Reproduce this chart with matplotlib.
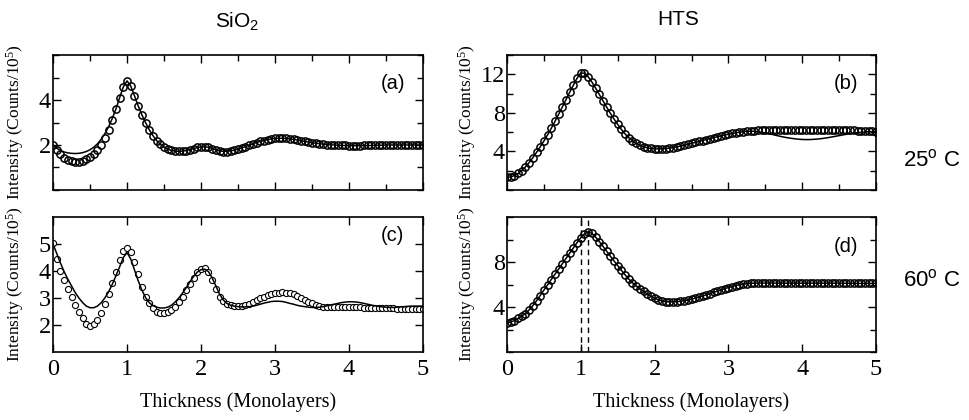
import numpy as np
import matplotlib
matplotlib.use('Agg')
import matplotlib.pyplot as plt
from matplotlib.ticker import MultipleLocator

plt.rcParams['font.family'] = ['Liberation Serif', 'DejaVu Serif']

# thickness grid (monolayers), step 0.05
Thick = np.linspace(0, 5, 101)

# (a) SiO2, 25 C
SiO2_25_data = [2.00, 1.78, 1.58, 1.43, 1.33, 1.27, 1.25, 1.26, 1.30, 1.37,
                1.47, 1.60, 1.77, 2.00, 2.30, 2.68, 3.12, 3.60, 4.10, 4.58,
                4.85, 4.62, 4.20, 3.75, 3.35, 3.00, 2.68, 2.42, 2.20, 2.03,
                1.91, 1.82, 1.76, 1.73, 1.72, 1.73, 1.75, 1.79, 1.84, 1.89,
                1.92, 1.93, 1.90, 1.84, 1.78, 1.73, 1.71, 1.71, 1.73, 1.77,
                1.82, 1.87, 1.93, 1.99, 2.05, 2.11, 2.16, 2.20, 2.24, 2.27,
                2.29, 2.30, 2.30, 2.29, 2.27, 2.25, 2.22, 2.19, 2.16, 2.13,
                2.10, 2.08, 2.06, 2.04, 2.02, 2.01, 2.00, 1.99, 1.98, 1.98,
                1.97, 1.97, 1.97, 1.97, 1.98, 1.98, 1.98, 1.99, 1.99, 1.99,
                2.00, 2.00, 2.00, 2.00, 2.00, 2.00, 2.00, 2.00, 2.00, 2.00,
                2.00]
SiO2_25_fit = [2.00, 1.86, 1.76, 1.69, 1.65, 1.63, 1.62, 1.63, 1.66, 1.71,
               1.79, 1.90, 2.05, 2.25, 2.50, 2.80, 3.17, 3.60, 4.10, 4.58,
               4.85, 4.62, 4.20, 3.75, 3.35, 3.00, 2.68, 2.42, 2.20, 2.03,
               1.91, 1.82, 1.76, 1.73, 1.72, 1.73, 1.75, 1.79, 1.84, 1.88,
               1.91, 1.92, 1.90, 1.85, 1.79, 1.74, 1.72, 1.72, 1.74, 1.77,
               1.82, 1.87, 1.93, 1.99, 2.05, 2.11, 2.16, 2.20, 2.24, 2.27,
               2.29, 2.30, 2.30, 2.29, 2.27, 2.25, 2.22, 2.19, 2.16, 2.13,
               2.10, 2.08, 2.06, 2.04, 2.02, 2.01, 2.00, 1.99, 1.98, 1.98,
               1.97, 1.97, 1.97, 1.97, 1.98, 1.98, 1.98, 1.99, 1.99, 1.99,
               2.00, 2.00, 2.00, 2.00, 2.00, 2.00, 2.00, 2.00, 2.00, 2.00,
               2.00]

# (b) HTS, 25 C
HTS_25_data = [1.30, 1.36, 1.50, 1.72, 2.02, 2.40, 2.85, 3.35, 3.90, 4.48,
               5.08, 5.72, 6.40, 7.12, 7.86, 8.62, 9.38, 10.14, 10.88, 11.60,
               12.15, 12.10, 11.75, 11.20, 10.58, 9.92, 9.26, 8.60, 7.96, 7.36,
               6.80, 6.28, 5.82, 5.42, 5.10, 4.84, 4.64, 4.49, 4.38, 4.31,
               4.27, 4.26, 4.27, 4.30, 4.34, 4.40, 4.47, 4.55, 4.64, 4.73,
               4.83, 4.93, 5.03, 5.13, 5.23, 5.33, 5.43, 5.52, 5.61, 5.70,
               5.78, 5.86, 5.93, 5.99, 6.04, 6.09, 6.13, 6.16, 6.19, 6.21,
               6.23, 6.24, 6.25, 6.26, 6.26, 6.27, 6.27, 6.27, 6.27, 6.27,
               6.27, 6.27, 6.27, 6.27, 6.27, 6.26, 6.26, 6.25, 6.25, 6.24,
               6.23, 6.22, 6.21, 6.20, 6.18, 6.16, 6.14, 6.12, 6.10, 6.08,
               6.06]
HTS_25_fit = [1.30, 1.36, 1.50, 1.72, 2.02, 2.40, 2.85, 3.35, 3.90, 4.48,
              5.08, 5.72, 6.40, 7.12, 7.86, 8.62, 9.38, 10.14, 10.88, 11.60,
              12.15, 12.10, 11.75, 11.20, 10.58, 9.92, 9.26, 8.60, 7.96, 7.36,
              6.80, 6.28, 5.82, 5.42, 5.10, 4.84, 4.64, 4.49, 4.38, 4.31,
              4.27, 4.26, 4.27, 4.30, 4.34, 4.40, 4.47, 4.55, 4.64, 4.73,
              4.83, 4.93, 5.03, 5.13, 5.23, 5.33, 5.43, 5.52, 5.61, 5.70,
              5.78, 5.86, 5.93, 5.99, 6.04, 6.09, 6.10, 6.09, 6.05, 5.99,
              5.92, 5.84, 5.75, 5.66, 5.57, 5.49, 5.42, 5.36, 5.31, 5.27,
              5.24, 5.23, 5.23, 5.25, 5.28, 5.32, 5.37, 5.43, 5.50, 5.57,
              5.64, 5.71, 5.78, 5.84, 5.90, 5.95, 5.99, 6.02, 6.04, 6.05,
              6.05]

# (c) SiO2, 60 C
SiO2_60_data = [5.05, 4.45, 4.00, 3.65, 3.35, 3.02, 2.75, 2.48, 2.25, 2.05,
                1.95, 2.02, 2.20, 2.45, 2.77, 3.15, 3.55, 3.95, 4.40, 4.75,
                4.87, 4.70, 4.35, 3.88, 3.40, 3.05, 2.80, 2.62, 2.50, 2.45,
                2.44, 2.47, 2.55, 2.68, 2.85, 3.05, 3.28, 3.52, 3.75, 3.95,
                4.07, 4.10, 3.95, 3.68, 3.35, 3.05, 2.88, 2.78, 2.73, 2.71,
                2.71, 2.72, 2.75, 2.79, 2.85, 2.92, 2.99, 3.05, 3.10, 3.15,
                3.18, 3.20, 3.21, 3.20, 3.17, 3.13, 3.07, 3.00, 2.93, 2.86,
                2.80, 2.75, 2.71, 2.68, 2.66, 2.65, 2.65, 2.65, 2.65, 2.65,
                2.65, 2.65, 2.65, 2.65, 2.64, 2.64, 2.64, 2.63, 2.63, 2.63,
                2.62, 2.62, 2.62, 2.61, 2.61, 2.61, 2.60, 2.60, 2.60, 2.60,
                2.60]
SiO2_60_fit = [5.00, 4.65, 4.30, 3.98, 3.70, 3.45, 3.20, 3.00, 2.83, 2.70,
               2.64, 2.64, 2.70, 2.82, 3.00, 3.22, 3.50, 3.82, 4.15, 4.50,
               4.68, 4.45, 4.05, 3.65, 3.30, 3.02, 2.83, 2.72, 2.66, 2.63,
               2.63, 2.66, 2.73, 2.85, 3.00, 3.18, 3.38, 3.60, 3.80, 3.96,
               4.05, 4.07, 3.98, 3.75, 3.45, 3.15, 2.93, 2.80, 2.73, 2.70,
               2.68, 2.67, 2.67, 2.68, 2.70, 2.73, 2.77, 2.81, 2.84, 2.87,
               2.88, 2.88, 2.87, 2.84, 2.80, 2.77, 2.73, 2.70, 2.68, 2.66,
               2.65, 2.65, 2.66, 2.68, 2.71, 2.74, 2.77, 2.80, 2.83, 2.85,
               2.86, 2.86, 2.85, 2.83, 2.80, 2.77, 2.74, 2.71, 2.69, 2.67,
               2.66, 2.65, 2.65, 2.66, 2.67, 2.68, 2.69, 2.70, 2.70, 2.70,
               2.70]

# (d) HTS, 60 C
HTS_60_data = [2.60, 2.66, 2.80, 2.98, 3.18, 3.42, 3.75, 4.12, 4.55, 5.02,
               5.50, 5.97, 6.44, 6.91, 7.38, 7.85, 8.32, 8.79, 9.26, 9.73,
               10.15, 10.50, 10.66, 10.55, 10.22, 9.82, 9.40, 8.96, 8.52, 8.10,
               7.68, 7.26, 6.86, 6.48, 6.16, 5.88, 5.62, 5.38, 5.16, 4.96,
               4.78, 4.64, 4.54, 4.48, 4.45, 4.45, 4.47, 4.51, 4.56, 4.62,
               4.70, 4.79, 4.88, 4.98, 5.08, 5.19, 5.30, 5.41, 5.52, 5.63,
               5.73, 5.82, 5.90, 5.97, 6.03, 6.07, 6.10, 6.12, 6.14, 6.15,
               6.16, 6.16, 6.16, 6.16, 6.16, 6.16, 6.16, 6.16, 6.16, 6.16,
               6.16, 6.16, 6.16, 6.15, 6.15, 6.15, 6.15, 6.15, 6.15, 6.15,
               6.15, 6.14, 6.14, 6.13, 6.13, 6.12, 6.12, 6.11, 6.11, 6.10,
               6.10]
HTS_60_fit = [2.60, 2.66, 2.80, 2.98, 3.18, 3.42, 3.75, 4.12, 4.55, 5.02,
              5.50, 5.97, 6.44, 6.91, 7.38, 7.85, 8.32, 8.79, 9.26, 9.73,
              10.15, 10.50, 10.66, 10.55, 10.22, 9.82, 9.40, 8.96, 8.52, 8.10,
              7.68, 7.26, 6.86, 6.48, 6.16, 5.88, 5.62, 5.38, 5.16, 4.96,
              4.78, 4.64, 4.54, 4.48, 4.45, 4.45, 4.47, 4.51, 4.56, 4.62,
              4.70, 4.79, 4.88, 4.98, 5.08, 5.19, 5.30, 5.41, 5.52, 5.63,
              5.73, 5.82, 5.90, 5.97, 6.03, 6.07, 6.10, 6.12, 6.13, 6.13,
              6.13, 6.13, 6.13, 6.12, 6.12, 6.12, 6.12, 6.12, 6.12, 6.12,
              6.12, 6.12, 6.12, 6.12, 6.12, 6.12, 6.12, 6.12, 6.12, 6.12,
              6.12, 6.11, 6.11, 6.11, 6.11, 6.10, 6.10, 6.10, 6.10, 6.10,
              6.10]
PeakLines = [1.0, 1.1]   # dashed markers in (d)

Ylab = 'Intensity (Counts/10$\\mathregular{^5}$)'
SansFont = ['Liberation Sans', 'DejaVu Sans']

fig = plt.figure(figsize=(9.69, 4.2), dpi=100)
W, H = 969., 420.

def mkax(l, r, t, b):
    return fig.add_axes([l/W, 1-b/H, (r-l)/W, (b-t)/H])

axA = mkax(53, 423, 55, 190)
axB = mkax(507, 876, 55, 190)
axC = mkax(53, 423, 217, 352)
axD = mkax(507, 876, 217, 352)

Panels = [(axA, SiO2_25_data, SiO2_25_fit, (0, 6), [2, 4], 1, True, '(a)', 0.79, -0.073),
          (axB, HTS_25_data, HTS_25_fit, (0, 14), [4, 8, 12], 2, True, '(b)', 0.79, -0.079),
          (axC, SiO2_60_data, SiO2_60_fit, (1, 6), [2, 3, 4, 5], None, False, '(c)', 0.865, -0.073),
          (axD, HTS_60_data, HTS_60_fit, (0, 12), [4, 8], 2, False, '(d)', 0.785, -0.079)]

for ax, dat, fit, ylim, yt, mnr, top, lab, ly, ylx in Panels:
    if ax is axC:
        ax.plot(Thick, dat, 'o', ms=4.4, mfc='white', mec='k', mew=0.8, zorder=2)
    else:
        # dense data: overlapping open circles make a thick band
        ax.plot(Thick, dat, 'o', ms=5.2, mfc='none', mec='k', mew=1.1, zorder=2)
    ax.plot(Thick, fit, '-', color='k', lw=1.1, zorder=3)
    ax.set_xlim(0, 5)
    ax.set_ylim(*ylim)
    ax.set_yticks(yt)
    ax.xaxis.set_major_locator(MultipleLocator(1))
    if top:
        ax.xaxis.set_minor_locator(MultipleLocator(0.5))
        ax.set_xticklabels([])
    else:
        ax.set_xlabel('Thickness (Monolayers)', fontsize=14.5, labelpad=9)
    if mnr:
        ax.yaxis.set_minor_locator(MultipleLocator(mnr))
    ax.tick_params(which='both', direction='in', top=True, right=True,
                   width=1.0, labelsize=17.5)
    ax.tick_params(which='major', length=6, pad=1.5)
    ax.tick_params(axis='x', which='major', pad=5)
    ax.tick_params(which='minor', length=4)
    for s in ax.spines.values():
        s.set_linewidth(1.2)
    ax.set_ylabel(Ylab, fontsize=12.5)
    ax.yaxis.set_label_coords(ylx, 0.5)
    ax.text(0.918, ly, lab, transform=ax.transAxes, ha='center', va='center',
            fontsize=14.5, family=SansFont)

for xv in PeakLines:
    axD.axvline(xv, color='k', ls=(0, (4, 3)), lw=1.0)

fig.text(237/W, 1-28/H, 'SiO$\\mathregular{_2}$', ha='center', va='baseline',
         fontsize=15, family=SansFont)
fig.text(678/W, 1-25/H, 'HTS', ha='center', va='baseline',
         fontsize=15, family=SansFont)
fig.text(903/W, 1-160/H, '25$\\mathregular{^o}$ C', ha='left', va='center',
         fontsize=16, family=SansFont)
fig.text(903/W, 1-280/H, '60$\\mathregular{^o}$ C', ha='left', va='center',
         fontsize=16, family=SansFont)

fig.savefig('out.png', dpi=100)
